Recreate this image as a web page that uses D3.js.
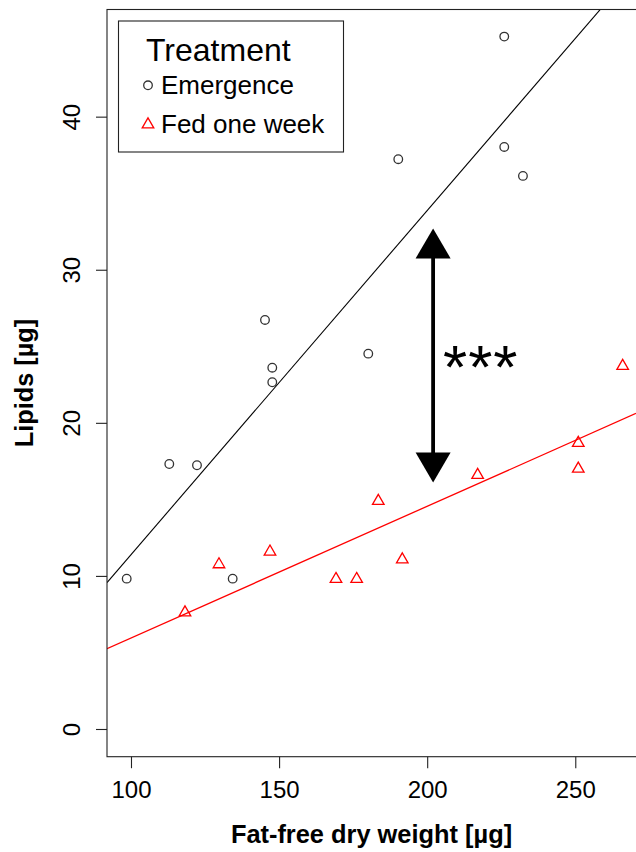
<!DOCTYPE html>
<html>
<head>
<meta charset="utf-8">
<script src="https://cdn.jsdelivr.net/npm/d3@7"></script>
<style>
  html, body { margin: 0; padding: 0; background: #fff; }
  svg { display: block; }
  text { font-family: "Liberation Sans", Arial, Helvetica, sans-serif; fill: #000; }
</style>
</head>
<body>
<svg id="chart" width="636" height="852"></svg>
<script>
// Fat-free dry weight (µg) and lipid content (µg) per individual
const emergenceWeight = [98.55, 112.93, 122.28, 134.33, 145.24, 147.70, 147.70, 180.11, 190.24, 226.02, 226.02, 232.33];
const emergenceLipids = [9.82, 17.31, 17.23, 9.82, 26.72, 23.60, 22.65, 24.52, 37.22, 45.23, 38.02, 36.13];
const fedWeight = [118.23, 129.71, 146.93, 169.21, 176.19, 183.49, 191.59, 217.04, 251.01, 251.01, 266.0];
const fedLipids = [7.61, 10.75, 11.58, 9.79, 9.79, 14.89, 11.07, 16.59, 18.68, 17.00, 23.71];

const treatments = ["Emergence", "Fed one week"];
const xTicks = [100, 150, 200, 250];
const yTicks = [0, 10, 20, 30, 40];
const xDomain = [91.9, 270.5];
const yDomain = [-1.81, 47.0];

// significance marker between the two fits
const arrowWeight = 202;
const arrowLipids = [16.1, 32.7];
const signifLabel = "***";
const signifAt = [218.1, 22.3];

const W = 636, H = 852;
const plot = { left: 107, right: 636, top: 9.5, bottom: 756.7 };

const svg = d3.select("#chart");
const x = d3.scaleLinear().domain(xDomain).range([plot.left, plot.right]);
const y = d3.scaleLinear().domain(yDomain).range([plot.bottom, plot.top]);

svg.append("defs").append("clipPath").attr("id", "plotClip")
  .append("rect")
  .attr("x", plot.left).attr("y", plot.top)
  .attr("width", plot.right - plot.left + 10).attr("height", plot.bottom - plot.top);

// least-squares line for one group
function fit(xs, ys) {
  const mx = d3.mean(xs), my = d3.mean(ys);
  let sxy = 0, sxx = 0;
  xs.forEach((v, i) => { sxy += (v - mx) * (ys[i] - my); sxx += (v - mx) * (v - mx); });
  const b = sxy / sxx;
  return { a: my - b * mx, b };
}

const groups = [
  { name: treatments[0], xs: emergenceWeight, ys: emergenceLipids, color: "#000", pt: "#333", shape: "circle" },
  { name: treatments[1], xs: fedWeight, ys: fedLipids, color: "#ff0000", pt: "#ff0000", shape: "triangle" }
];

const R = 4.3;
const triPath = (function () {
  const r = 1.555 * R, xc = 1.347 * R, yc = 0.778 * R;
  return `M0,${-r}L${xc},${yc}L${-xc},${yc}Z`;
})();

const inner = svg.append("g").attr("clip-path", "url(#plotClip)");

// regression lines
groups.forEach(g => {
  const f = fit(g.xs, g.ys);
  const x0 = xDomain[0], x1 = xDomain[1];
  inner.append("line")
    .attr("x1", x(x0)).attr("y1", y(f.a + f.b * x0))
    .attr("x2", x(x1)).attr("y2", y(f.a + f.b * x1))
    .attr("stroke", g.color)
    .attr("stroke-width", g.shape === "triangle" ? 1.3 : 1.1);
});

// points
groups.forEach(g => {
  const pts = g.xs.map((v, i) => [v, g.ys[i]]);
  if (g.shape === "circle") {
    inner.selectAll(null).data(pts).enter().append("circle")
      .attr("cx", d => x(d[0])).attr("cy", d => y(d[1])).attr("r", R)
      .attr("fill", "none").attr("stroke", g.pt).attr("stroke-width", 1.3);
  } else {
    inner.selectAll(null).data(pts).enter().append("path")
      .attr("transform", d => `translate(${x(d[0])},${y(d[1])})`)
      .attr("d", triPath)
      .attr("fill", "none").attr("stroke", g.pt).attr("stroke-width", 1.3);
  }
});

// double-headed arrow
const ax = x(arrowWeight);
const yLo = y(arrowLipids[0]), yHi = y(arrowLipids[1]);
const headLen = 30, headHalf = 17.5;
svg.append("line")
  .attr("x1", ax).attr("x2", ax)
  .attr("y1", yHi + headLen - 2).attr("y2", yLo - headLen + 2)
  .attr("stroke", "#000").attr("stroke-width", 3.8);
svg.append("path")
  .attr("d", `M${ax},${yHi}L${ax + headHalf},${yHi + headLen}L${ax - headHalf},${yHi + headLen}Z`)
  .attr("fill", "#000");
svg.append("path")
  .attr("d", `M${ax},${yLo}L${ax + headHalf},${yLo - headLen}L${ax - headHalf},${yLo - headLen}Z`)
  .attr("fill", "#000");
svg.append("text")
  .attr("x", x(signifAt[0])).attr("y", y(signifAt[1]))
  .attr("text-anchor", "middle")
  .attr("font-size", 62)
  .attr("letter-spacing", 1)
  .text(signifLabel);

// plot frame
svg.append("rect")
  .attr("x", plot.left).attr("y", plot.top)
  .attr("width", plot.right - plot.left + 20).attr("height", plot.bottom - plot.top)
  .attr("fill", "none").attr("stroke", "#222").attr("stroke-width", 1.1);

// x axis
const xAxis = svg.append("g").attr("transform", `translate(0,${plot.bottom})`)
  .call(d3.axisBottom(x).tickValues(xTicks).tickSize(11.5).tickFormat(d3.format("d")));
xAxis.select(".domain").remove();
xAxis.selectAll(".tick line").attr("stroke", "#222").attr("stroke-width", 1.1);
xAxis.selectAll(".tick text")
  .attr("y", 41).attr("dy", null)
  .attr("font-size", 24).attr("fill", "#000")
  .style("font-family", '"Liberation Sans", Arial, sans-serif');

// y axis
const yAxis = svg.append("g").attr("transform", `translate(${plot.left},0)`)
  .call(d3.axisLeft(y).tickValues(yTicks).tickSize(11).tickFormat(d3.format("d")));
yAxis.select(".domain").remove();
yAxis.selectAll(".tick line").attr("stroke", "#222").attr("stroke-width", 1.1);
yAxis.selectAll(".tick text")
  .attr("x", null).attr("dy", null)
  .attr("transform", "translate(-27.5,0) rotate(-90)")
  .attr("text-anchor", "middle")
  .attr("font-size", 24).attr("fill", "#000")
  .style("font-family", '"Liberation Sans", Arial, sans-serif');

// axis titles
svg.append("text")
  .attr("x", (plot.left + plot.right) / 2).attr("y", 843)
  .attr("text-anchor", "middle").attr("font-size", 25.4).attr("font-weight", "bold")
  .text("Fat-free dry weight [µg]");
svg.append("text")
  .attr("transform", `translate(33,${(plot.top + plot.bottom) / 2}) rotate(-90)`)
  .attr("text-anchor", "middle").attr("font-size", 25.3).attr("font-weight", "bold")
  .text("Lipids [µg]");

// legend
const lg = svg.append("g");
lg.append("rect")
  .attr("x", 118.5).attr("y", 21).attr("width", 225).attr("height", 131)
  .attr("fill", "#fff").attr("stroke", "#222").attr("stroke-width", 1.1);
lg.append("text").attr("x", 146).attr("y", 61).attr("font-size", 32).text("Treatment");
lg.append("circle").attr("cx", 148).attr("cy", 85.3).attr("r", R)
  .attr("fill", "none").attr("stroke", "#333").attr("stroke-width", 1.3);
lg.append("text").attr("x", 161).attr("y", 94.3).attr("font-size", 26).text(treatments[0]);
lg.append("path").attr("transform", "translate(148,124.5)").attr("d", triPath)
  .attr("fill", "none").attr("stroke", "#ff0000").attr("stroke-width", 1.3);
lg.append("text").attr("x", 161).attr("y", 133.3).attr("font-size", 26).text(treatments[1]);
</script>
</body>
</html>
